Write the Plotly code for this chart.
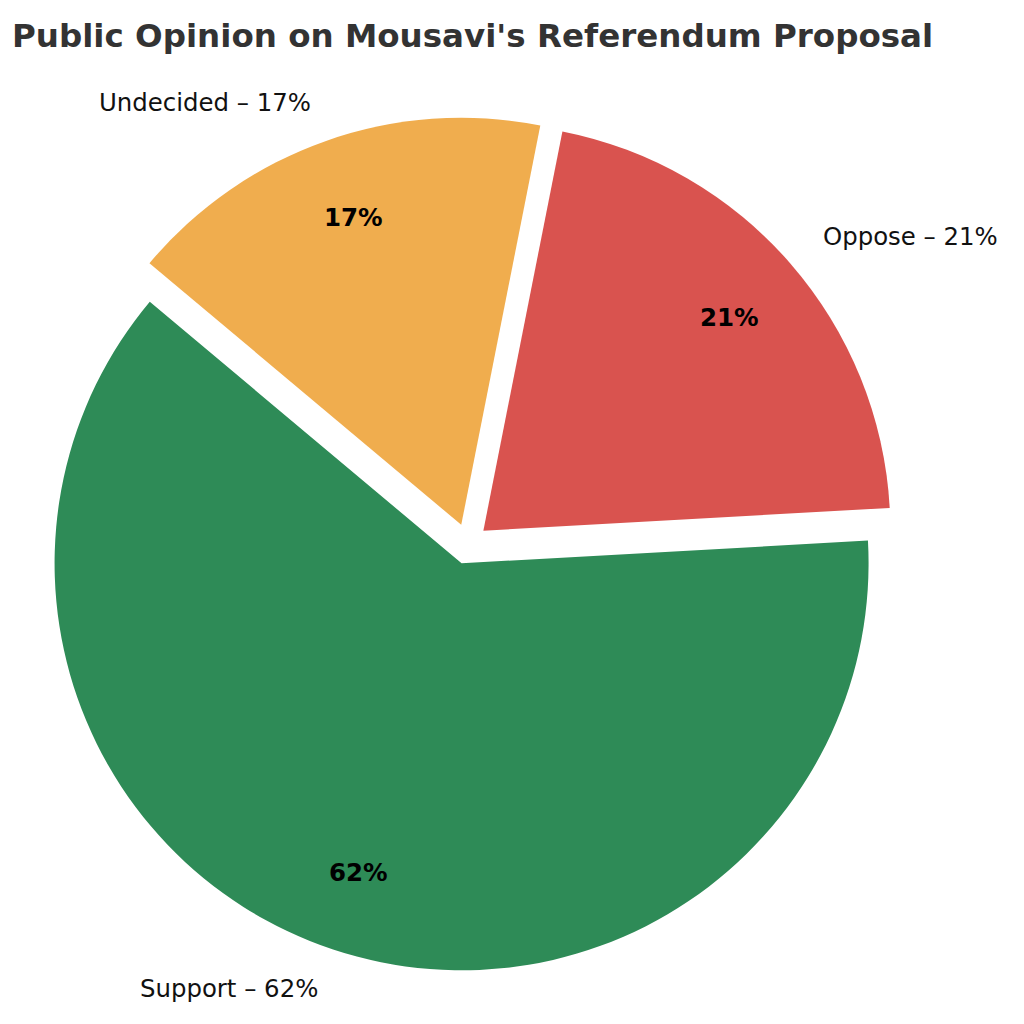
import math
import plotly.graph_objects as go

categories = ["Support", "Oppose", "Undecided"]
values = [62, 21, 17]
colors = ["#2E8B57", "#D9534F", "#F0AD4E"]
title_text = "Public Opinion on Mousavi's Referendum Proposal"

W = H = 1024
pull = 0.05
start_angle = 140.0  # degrees, counterclockwise from 3 o'clock
label_dist = 1.1
pct_dist = 0.8

r_px = 407
cx_px, cy_px = 460, 536
half = r_px * (1 + pull)
x_dom = [(cx_px - half) / W, (cx_px + half) / W]
y_dom = [(H - cy_px - half) / H, (H - cy_px + half) / H]

total = float(sum(values))
rotation = 90 - (start_angle + 360 * values[0] / total)
rotation = ((rotation + 180) % 360) - 180

fig = go.Figure(go.Pie(
    labels=categories,
    values=values,
    marker=dict(colors=colors, line=dict(width=0)),
    pull=[pull] * len(values),
    sort=False,
    direction="counterclockwise",
    rotation=rotation,
    textinfo="none",
    hoverinfo="none",
    showlegend=False,
    domain=dict(x=x_dom, y=y_dom),
))

cx_p = (x_dom[0] + x_dom[1]) / 2
cy_p = (y_dom[0] + y_dom[1]) / 2
annotations = []
theta = start_angle
for cat, v in zip(categories, values):
    span = 360 * v / total
    mid = math.radians(theta + span / 2)
    theta += span
    pct = f"{round(100 * v / total)}%"
    c, s = math.cos(mid), math.sin(mid)
    d = pull + label_dist
    annotations.append(dict(
        x=cx_p + d * r_px * c / W, y=cy_p + d * r_px * s / H,
        xref="paper", yref="paper", showarrow=False,
        text=f"{cat} – {pct}",
        xanchor="left" if c > 0 else "right", yanchor="middle",
        font=dict(family="DejaVu Sans", size=24.4, color="#111111"),
    ))
    d = pull + pct_dist
    annotations.append(dict(
        x=cx_p + d * r_px * c / W, y=cy_p + d * r_px * s / H,
        xref="paper", yref="paper", showarrow=False,
        text=f"<b>{pct}</b>",
        xanchor="center", yanchor="middle",
        font=dict(family="DejaVu Sans", size=24.5, color="#000000"),
    ))

fig.update_layout(
    width=W, height=H,
    margin=dict(l=0, r=0, t=0, b=0),
    paper_bgcolor="white", plot_bgcolor="white",
    title=dict(text=f"<b>{title_text}</b>", x=4 / W, xanchor="left",
               xref="paper", yref="container", y=1 - 28 / H, yanchor="middle",
               font=dict(family="DejaVu Sans", size=32.5, color="#333333")),
    annotations=annotations,
)

fig.write_html("out.html")
